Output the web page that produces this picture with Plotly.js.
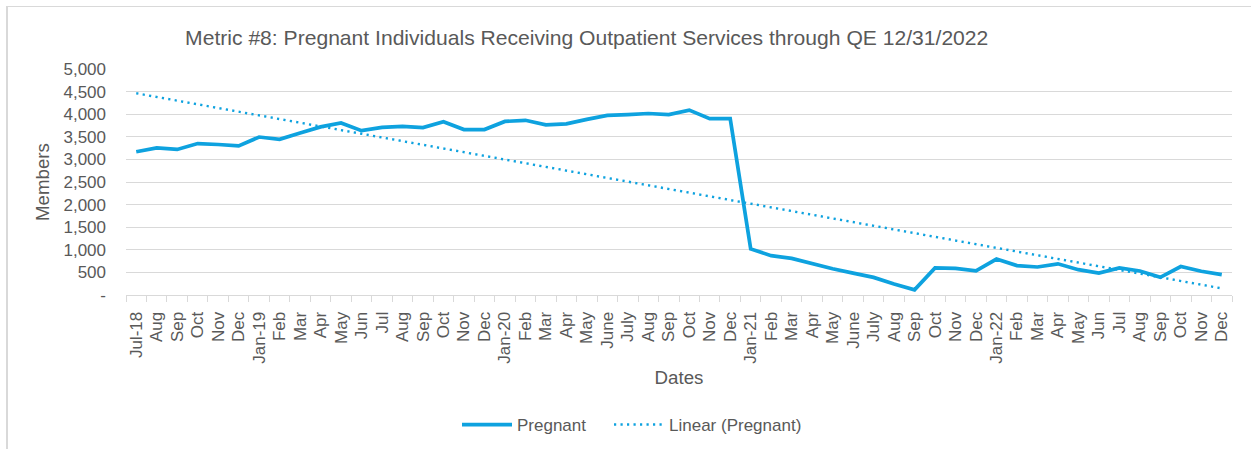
<!DOCTYPE html>
<html>
<head>
<meta charset="utf-8">
<script src="https://cdn.plot.ly/plotly-3.0.1.min.js"></script>
<style>
  html, body { margin: 0; padding: 0; background: #ffffff; }
  #frame { position: absolute; left: 6px; top: 6px; width: 1300px; height: 500px;
           border-top: 1px solid #d9d9d9; border-left: 2px solid #d9d9d9; box-sizing: border-box; }
  #chart { position: absolute; left: 0; top: 0; width: 1251px; height: 449px; }
</style>
</head>
<body>
<div id="frame"></div>
<div id="chart"></div>
<script>
// ---- data ----
const monthLabels = [
  "Jul-18","Aug","Sep","Oct","Nov","Dec",
  "Jan-19","Feb","Mar","Apr","May","Jun","Jul","Aug","Sep","Oct","Nov","Dec",
  "Jan-20","Feb","Mar","Apr","May","June","July","Aug","Sep","Oct","Nov","Dec",
  "Jan-21","Feb","Mar","Apr","May","June","July","Aug","Sep","Oct","Nov","Dec",
  "Jan-22","Feb","Mar","Apr","May","Jun","Jul","Aug","Sep","Oct","Nov","Dec"
];
const pregnant = [
  3170, 3255, 3220, 3350, 3330, 3300,
  3495, 3445, 3585, 3720, 3805, 3635, 3710, 3730, 3705, 3835, 3660, 3660,
  3840, 3865, 3765, 3785, 3885, 3975, 3990, 4015, 3990, 4090, 3900, 3900,
  1020, 870, 810, 690, 580, 485, 390, 245, 115, 600, 590, 535,
  795, 650, 620, 690, 560, 485, 600, 530, 390, 630, 525, 450
];
const yTickVals = [0, 500, 1000, 1500, 2000, 2500, 3000, 3500, 4000, 4500, 5000];
const yTickText = ["-", "500", "1,000", "1,500", "2,000", "2,500", "3,000", "3,500", "4,000", "4,500", "5,000"];

// ---- derived ----
const xIdx = monthLabels.map((_, i) => i);
const n = pregnant.length;
const mx = xIdx.reduce((a, b) => a + b, 0) / n;
const my = pregnant.reduce((a, b) => a + b, 0) / n;
let sxy = 0, sxx = 0;
for (let i = 0; i < n; i++) { sxy += (xIdx[i] - mx) * (pregnant[i] - my); sxx += (xIdx[i] - mx) ** 2; }
const slope = sxy / sxx;
const intercept = my - slope * mx;
const trend = xIdx.map(x => intercept + slope * x);
const boundaries = [];
for (let i = 0; i <= n; i++) boundaries.push(i - 0.5);

const blue = "#0ea2df";
const txt = "#595959";
const font = "Liberation Sans, Arial, sans-serif";

const traces = [
  { x: xIdx, y: pregnant, type: "scatter", mode: "lines", name: "Pregnant",
    line: { color: blue, width: 3.7 }, legend: "legend" },
  { x: xIdx, y: trend, type: "scatter", mode: "lines", name: "Linear (Pregnant)",
    line: { color: blue, width: 2.4, dash: "2.2px,4.3px" }, legend: "legend2" }
];

const legendBase = {
  orientation: "h", xref: "container", yref: "container", xanchor: "left", yanchor: "middle",
  y: 1 - 425 / 449, font: { family: font, size: 17, color: txt }, itemwidth: 50,
  bgcolor: "rgba(0,0,0,0)", borderwidth: 0
};

const layout = {
  width: 1251, height: 449,
  paper_bgcolor: "rgba(0,0,0,0)", plot_bgcolor: "rgba(0,0,0,0)",
  margin: { l: 126, r: 19, t: 69, b: 154, autoexpand: false },
  font: { family: font, color: txt, size: 17 },
  title: { text: "Metric #8: Pregnant Individuals Receiving Outpatient Services through QE 12/31/2022",
           font: { family: font, size: 21.1, color: txt }, x: 0.469, xanchor: "center", y: 0.917, yanchor: "middle" },
  xaxis: {
    range: [-0.5, n - 0.5], tickmode: "array", tickvals: xIdx, ticktext: monthLabels,
    tickangle: -90, ticks: "", showgrid: false, zeroline: false, automargin: false,
    showline: true, linecolor: "#d9d9d9", linewidth: 1,
    ticklabelstandoff: 9,
    tickfont: { family: font, size: 17, color: txt },
    minor: { tickmode: "array", tickvals: boundaries, ticks: "outside", ticklen: 6, tickcolor: "#d9d9d9", tickwidth: 1, showgrid: false },
    title: { text: "Dates", font: { family: font, size: 18.7, color: txt }, standoff: 8 },
    fixedrange: true
  },
  yaxis: {
    range: [0, 5000], tickmode: "array", tickvals: yTickVals, ticktext: yTickText,
    showgrid: true, gridcolor: "#d9d9d9", gridwidth: 1, zeroline: false, showline: false, automargin: false,
    ticks: "", ticklabelstandoff: 19,
    tickfont: { family: font, size: 17, color: txt },
    title: { text: "Members", font: { family: font, size: 18.7, color: txt }, standoff: 8 },
    fixedrange: true
  },
  showlegend: true,
  legend: Object.assign({}, legendBase, { x: 457 / 1251 }),
  legend2: Object.assign({}, legendBase, { x: 609 / 1251 })
};

Plotly.newPlot("chart", traces, layout, { displayModeBar: false, staticPlot: true });
</script>
</body>
</html>
